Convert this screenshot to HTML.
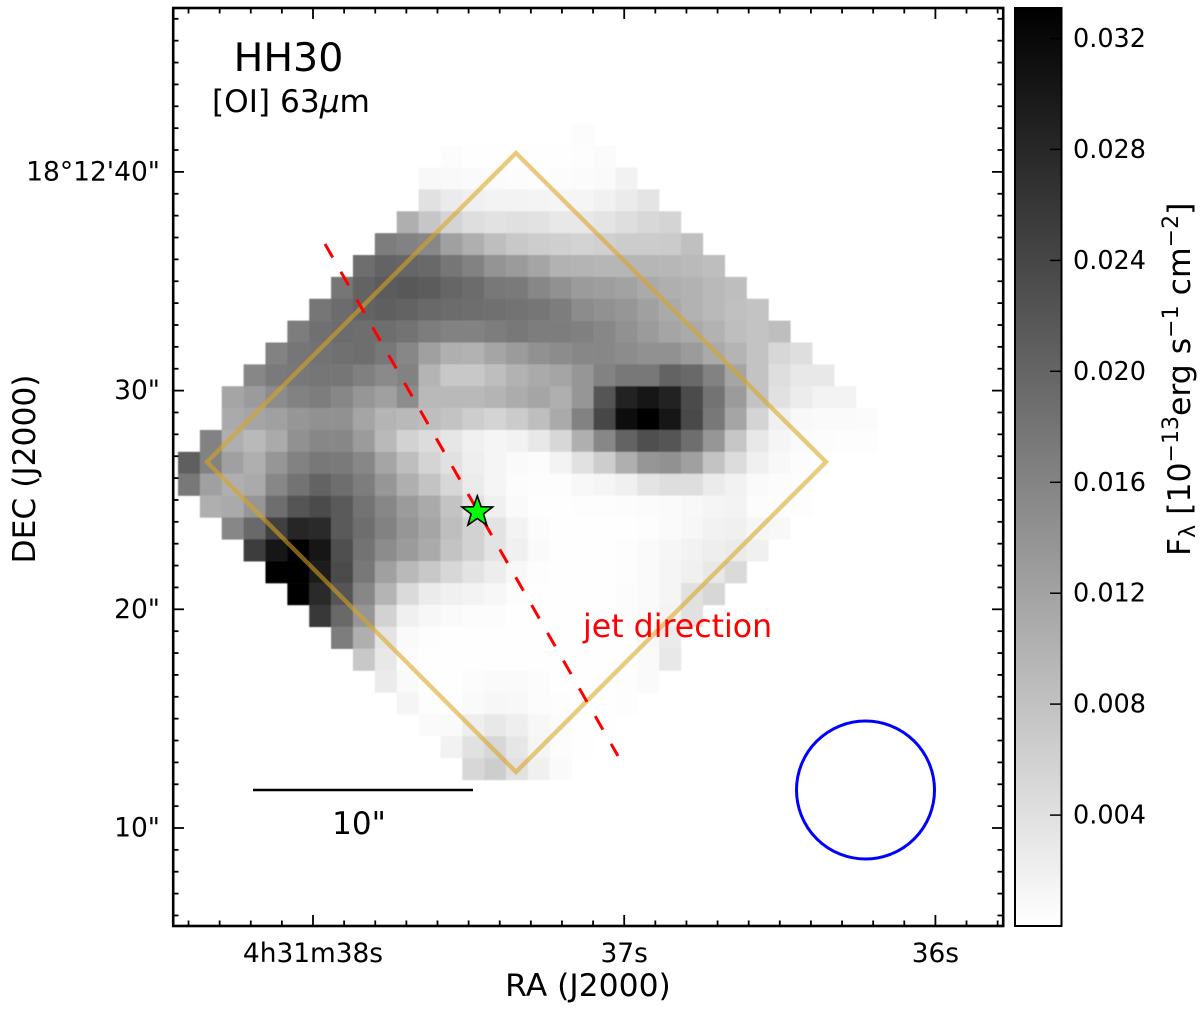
<!DOCTYPE html>
<html>
<head>
<meta charset="utf-8">
<title>HH30 [OI] 63 micron map</title>
<style>
html,body{margin:0;padding:0;background:#fff;}
svg{display:block;}
text{font-family:"DejaVu Sans","Liberation Sans",sans-serif;fill:#000;}
</style>
</head>
<body>
<svg id="chart" xmlns="http://www.w3.org/2000/svg" width="1200" height="1010" viewBox="0 0 1200 1010">
  <defs>
    <linearGradient id="cbar-gradient" x1="0" y1="0" x2="0" y2="1">
      <stop offset="0" stop-color="#000"/>
      <stop offset="1" stop-color="#fff"/>
    </linearGradient>
    <filter id="soft" x="-2%" y="-2%" width="104%" height="104%">
      <feGaussianBlur stdDeviation="0.6"/>
    </filter>
  </defs>
  <rect x="173" y="8" width="830" height="918" fill="#fff"/>
  <g id="heatmap" filter="url(#soft)"></g>
  <polygon points="516,153 826,462 516,772 207,462" fill="none" stroke="#DAA520" stroke-opacity="0.58" stroke-width="4.4"/>
  <line x1="325" y1="244" x2="618" y2="756" stroke="#ff0000" stroke-width="3" stroke-dasharray="15.5 16.5"/>
  <polygon id="star" fill="#00ff00" stroke="#000" stroke-width="1.6" stroke-linejoin="miter"></polygon>
  <circle cx="865.5" cy="790" r="69" fill="none" stroke="#0000ff" stroke-width="3"/>
  <line x1="253" y1="790" x2="473" y2="790" stroke="#000" stroke-width="2.4"/>
  <text x="359" y="834" font-size="31" text-anchor="middle">10"</text>
  <text x="288.5" y="71" font-size="39.5" text-anchor="middle">HH30</text>
  <text x="212" y="112" font-size="31.2">[OI] 63<tspan font-style="italic">μ</tspan>m</text>
  <text x="583" y="637" font-size="31.6" style="fill:#ff0000">jet direction</text>
  <g id="axes-ticks"></g>
  <rect x="173.2" y="8" width="830" height="918" fill="none" stroke="#000" stroke-width="2.6"/>
  <g id="tick-labels"></g>
  <text x="588" y="996" font-size="31.4" text-anchor="middle">RA (J2000)</text>
  <text transform="translate(35,469) rotate(-90)" font-size="31.3" text-anchor="middle">DEC (J2000)</text>
  <rect x="1015" y="8" width="46.5" height="918" fill="url(#cbar-gradient)"/>
  <g id="cbar-ticks"></g>
  <rect x="1015" y="8" width="46.5" height="918" fill="none" stroke="#000" stroke-width="2"/>
  <text transform="translate(1190,556) rotate(-90)" font-size="31.5">F<tspan font-size="22" dy="5">λ</tspan><tspan dy="-5"> [10</tspan><tspan font-size="22" dy="-12">−13</tspan><tspan dy="12">erg s</tspan><tspan font-size="22" dy="-12">−1</tspan><tspan dy="12"> cm</tspan><tspan font-size="22" dy="-12">−2</tspan><tspan dy="12">]</tspan></text>
</svg>
<script>
// Flux per map pixel, in units of fluxUnit; 0 = no data. One row per 1" pixel row, top to bottom.
const fluxUnit = 0.0331 / 255;
const fluxRows = [
[0,0,0,0,0,0,0,0,0,0,0,0,0,0,0,0,0,0,3,0,0,0,0,0,0,0,0,0,0,0,0,0],
[0,0,0,0,0,0,0,0,0,0,0,0,3,1,1,1,1,1,2,4,0,0,0,0,0,0,0,0,0,0,0,0],
[0,0,0,0,0,0,0,0,0,0,0,7,6,5,4,3,2,3,4,5,13,0,0,0,0,0,0,0,0,0,0,0],
[0,0,0,0,0,0,0,0,0,0,0,30,20,15,12,12,11,10,10,14,20,27,0,0,0,0,0,0,0,0,0,0],
[0,0,0,0,0,0,0,0,0,0,80,57,43,33,29,31,29,23,23,27,33,39,43,0,0,0,0,0,0,0,0,0],
[0,0,0,0,0,0,0,0,0,130,125,120,95,80,65,55,50,48,44,47,51,51,52,63,0,0,0,0,0,0,0,0],
[0,0,0,0,0,0,0,0,145,155,153,150,137,125,107,100,90,77,75,73,73,73,72,69,65,0,0,0,0,0,0,0],
[0,0,0,0,0,0,0,137,155,163,167,163,153,147,135,133,120,110,100,97,93,85,80,77,70,65,0,0,0,0,0,0],
[0,0,0,0,0,0,137,147,155,160,155,150,147,145,143,140,137,130,115,110,105,95,85,77,70,63,60,0,0,0,0,0],
[0,0,0,0,0,130,143,147,145,145,140,130,125,125,130,135,130,130,127,120,110,100,90,85,77,65,60,65,0,0,0,0],
[0,0,0,0,125,137,140,143,145,135,120,95,80,77,90,100,110,115,120,120,115,110,110,100,85,75,60,40,33,0,0,0],
[0,0,0,120,133,135,137,137,127,117,125,75,55,55,65,77,85,90,105,125,135,135,155,150,125,90,60,33,23,23,0,0],
[0,0,90,100,115,125,130,120,105,95,115,70,70,70,75,83,90,80,105,170,220,230,222,180,140,100,60,30,19,12,12,0],
[0,0,85,90,95,105,110,110,90,75,70,65,60,50,43,52,65,85,125,185,240,255,237,183,135,90,43,15,7,5,5,4],
[0,125,80,70,85,110,120,120,100,70,45,35,25,15,10,13,23,40,80,120,155,175,170,145,105,57,23,10,5,3,2,2],
[160,125,95,80,105,125,135,133,120,90,65,43,30,17,10,5,3,12,30,50,80,105,110,95,60,35,15,7,3,0,0,0],
[135,95,80,85,120,140,155,145,130,105,80,60,40,20,10,3,2,2,7,10,15,27,33,33,20,13,5,3,2,0,0,0],
[0,80,85,105,145,170,180,165,140,120,100,85,60,30,15,5,1,1,2,2,3,4,5,7,10,12,3,2,2,0,0,0],
[0,0,120,150,190,215,213,165,145,125,105,90,65,45,28,12,3,1,1,1,1,2,5,8,13,15,9,7,0,0,0,0],
[0,0,0,195,230,250,230,175,140,115,100,85,60,45,28,15,5,1,1,1,2,5,9,13,17,20,15,0,0,0,0,0],
[0,0,0,0,255,255,225,180,135,95,70,55,40,28,18,7,2,1,1,1,2,5,10,15,23,37,0,0,0,0,0,0],
[0,0,0,0,0,255,213,170,120,75,37,20,15,12,8,3,1,1,1,1,3,5,10,30,40,0,0,0,0,0,0,0],
[0,0,0,0,0,0,200,150,105,45,15,8,5,3,3,1,1,1,1,1,3,5,12,30,0,0,0,0,0,0,0,0],
[0,0,0,0,0,0,0,130,80,27,5,2,1,1,1,1,1,1,1,1,1,7,20,0,0,0,0,0,0,0,0,0],
[0,0,0,0,0,0,0,0,55,23,3,1,1,1,1,1,1,1,1,1,1,5,23,0,0,0,0,0,0,0,0,0],
[0,0,0,0,0,0,0,0,0,20,5,1,1,3,5,5,3,1,1,1,2,5,0,0,0,0,0,0,0,0,0,0],
[0,0,0,0,0,0,0,0,0,0,10,2,1,5,8,7,3,2,1,1,2,0,0,0,0,0,0,0,0,0,0,0],
[0,0,0,0,0,0,0,0,0,0,0,5,5,17,23,17,8,4,1,1,0,0,0,0,0,0,0,0,0,0,0,0],
[0,0,0,0,0,0,0,0,0,0,0,0,13,30,40,25,10,3,1,0,0,0,0,0,0,0,0,0,0,0,0,0],
[0,0,0,0,0,0,0,0,0,0,0,0,0,40,50,30,15,5,0,0,0,0,0,0,0,0,0,0,0,0,0,0]
];
const decMajorArcsec = [10, 20, 30, 40];
const decMajorLabels = ['10"', '20"', '30"', "18°12'40\""];
const raMajorSeconds = [38, 37, 36];
const raMajorLabels = ['4h31m38s', '37s', '36s'];
const colorbarTicks = [0.004, 0.008, 0.012, 0.016, 0.020, 0.024, 0.028, 0.032];
const colorbarLabels = ['0.004', '0.008', '0.012', '0.016', '0.020', '0.024', '0.028', '0.032'];
const fluxMin = 0;
const fluxMax = 0.0331;
const starRA = 37.472;
const starDec = 24.45;

const NS = 'http://www.w3.org/2000/svg';
const PX = 21.87;
function colX(c) { return 178 + PX * c; }
function rowY(r) { return 123.8 + PX * r; }
function decY(a) { return 828 - (a - 10) * PX; }
function raX(s) { return 313 + (38 - s) * 311.2; }
function cbarY(v) { return 926 - (v - fluxMin) / (fluxMax - fluxMin) * 918; }
function grayOf(v) {
  const g = Math.round(255 * (1 - Math.min(1, (v - fluxMin) / (fluxMax - fluxMin))));
  return 'rgb(' + g + ',' + g + ',' + g + ')';
}
function svgEl(parent, tag) {
  const el = document.createElementNS(NS, tag);
  parent.appendChild(el);
  return el;
}
function setAll(el, obj) { for (const k in obj) el.setAttribute(k, obj[k]); }

const heat = document.getElementById('heatmap');
fluxRows.forEach(function (row, r) {
  row.forEach(function (level, c) {
    if (level <= 0) return;
    const rect = svgEl(heat, 'rect');
    
    
    setAll(rect, { x: colX(c).toFixed(2), y: rowY(r).toFixed(2), width: (PX + 0.25).toFixed(2), height: (PX + 0.25).toFixed(2), fill: grayOf(level * fluxUnit) });
  });
});

const ticks = document.getElementById('axes-ticks');
function tick(x1, y1, x2, y2, w) {
  const t = svgEl(ticks, 'line');
  
  
  setAll(t, { x1: x1, y1: y1, x2: x2, y2: y2, stroke: '#000', 'stroke-width': w });
}
for (let a = 6; a <= 47; a++) {
  const len = decMajorArcsec.indexOf(a) >= 0 ? 11 : 5.5;
  const y = decY(a);
  tick(173, y, 173 + len, y, 1.8);
  tick(1003, y, 1003 - len, y, 1.8);
}
for (let k = 0; k <= 26; k++) {
  const s = 38.4 - k * 0.1;
  const major = raMajorSeconds.some(function (m) { return Math.abs(m - s) < 0.01; });
  const len = major ? 11 : 5.5;
  const x = raX(s);
  tick(x, 926, x, 926 - len, 1.8);
  tick(x, 8, x, 8 + len, 1.8);
}

const labels = document.getElementById('tick-labels');
decMajorArcsec.forEach(function (a, i) {
  const t = svgEl(labels, 'text');
  
  
  setAll(t, { x: 160, y: (decY(a) + 8.5).toFixed(1), 'font-size': 26.5, 'text-anchor': 'end' });
  t.textContent = decMajorLabels[i];
});
raMajorSeconds.forEach(function (s, i) {
  const t = svgEl(labels, 'text');
  
  
  setAll(t, { x: raX(s).toFixed(1), y: 962, 'font-size': 26.4, 'text-anchor': 'middle' });
  t.textContent = raMajorLabels[i];
});

const cb = document.getElementById('cbar-ticks');
colorbarTicks.forEach(function (v, i) {
  const y = cbarY(v);
  const l = svgEl(cb, 'line');
  
  
  setAll(l, { x1: 1050, y1: y.toFixed(1), x2: 1061.5, y2: y.toFixed(1), stroke: '#000', 'stroke-width': 1.5 });
  const t = svgEl(cb, 'text');
  
  
  setAll(t, { x: 1073, y: (y + 8.5).toFixed(1), 'font-size': 25.5 });
  t.textContent = colorbarLabels[i];
});

const star = document.getElementById('star');
const sx = raX(starRA), sy = decY(starDec), pts = [];
for (let i = 0; i < 10; i++) {
  const rad = i % 2 === 0 ? 16.1 : 6.5;
  const ang = -Math.PI / 2 + i * Math.PI / 5;
  pts.push((sx + rad * Math.cos(ang)).toFixed(1) + ',' + (sy + rad * Math.sin(ang)).toFixed(1));
}
star.setAttribute('points', pts.join(' '));
</script>
</body>
</html>
